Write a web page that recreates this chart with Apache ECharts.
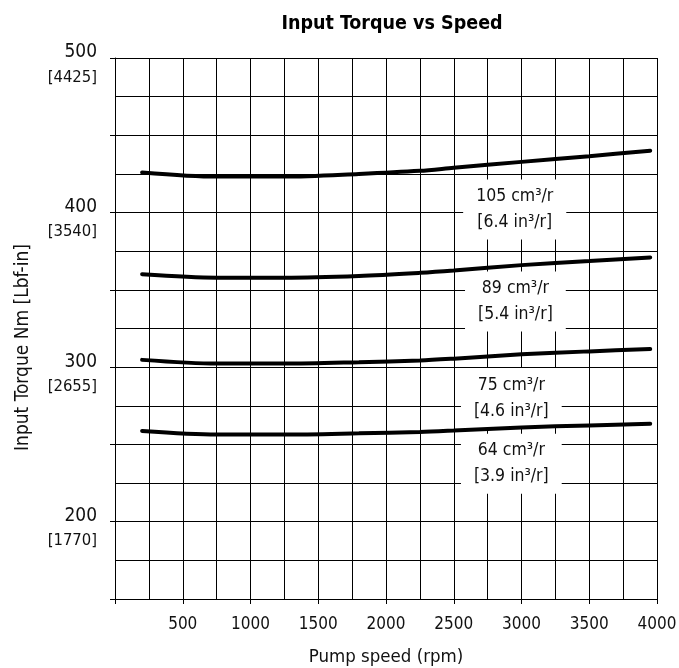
<!DOCTYPE html>
<html>
<head>
<meta charset="utf-8">
<title>Input Torque vs Speed</title>
<script src="https://cdn.jsdelivr.net/npm/echarts@6/dist/echarts.min.js"></script>
<style>
  html, body { margin: 0; padding: 0; background: #fff; }
  #chart { width: 679px; height: 668px; }
</style>
</head>
<body>
<div id="chart"></div>
<script>
const font = "'Liberation Sans Narrow', 'DejaVu Sans Condensed', sans-serif";

// pump speed (rpm) sample points, shared by all curves
const speed = [200, 750, 1250, 1800, 2250, 2500, 3000, 3500, 3950];

// input torque (Nm) per displacement
const torque105 = [426, 423.3, 423.3, 425, 427, 429, 432.8, 436.5, 440];
const torque89 = [360.1, 357.9, 357.9, 359, 361, 362.5, 366, 368.6, 371];
const torque75 = [304.7, 302.3, 302.3, 303.2, 304.3, 305.5, 308.3, 310.2, 311.7];
const torque64 = [258.7, 256.4, 256.4, 257.2, 258.1, 259, 261, 262.3, 263.3];

// curve labels
const labelCm = ['105 cm³/r', '89 cm³/r', '75 cm³/r', '64 cm³/r'];
const labelIn = ['[6.4 in³/r]', '[5.4 in³/r]', '[4.6 in³/r]', '[3.9 in³/r]'];
const labelSpeed = [2950, 2955, 2925, 2925];
const labelTorque = [402, 342.5, 280, 237.5];

// axis labels
const xLabels = [500, 1000, 1500, 2000, 2500, 3000, 3500, 4000];
const yLabelsNm = [200, 300, 400, 500];
const yLabelsLbf = ['[1770]', '[2655]', '[3540]', '[4425]'];

const curves = [torque105, torque89, torque75, torque64];

const chart = echarts.init(document.getElementById('chart'), null, { renderer: 'canvas' });

const lineSeries = curves.map(function (vals) {
  return {
    type: 'line',
    data: speed.map(function (s, i) { return [s, vals[i]]; }),
    smooth: 0.3,
    symbol: 'none',
    lineStyle: { color: '#000', width: 4, cap: 'round' },
    z: 6
  };
});

const labelSeries = {
  type: 'scatter',
  symbolSize: 0,
  z: 4,
  itemStyle: { opacity: 1 },
  data: labelSpeed.map(function (s, i) { return [s, labelTorque[i], i]; }),
  label: {
    show: true,
    position: 'inside',
    formatter: function (p) {
      const i = p.data[2];
      return labelCm[i] + '\n' + labelIn[i];
    },
    fontFamily: font,
    fontSize: 17.5,
    lineHeight: 26,
    color: '#111',
    backgroundColor: '#fff',
    padding: [7, 13, 1, 13]
  }
};

chart.setOption({
  animation: false,
  title: {
    text: 'Input Torque vs Speed',
    left: 387,
    top: 9,
    textAlign: 'center',
    textStyle: { fontFamily: font, fontWeight: 'bold', fontSize: 19.5, color: '#000' }
  },
  grid: { left: 115, right: 22, top: 58, bottom: 69, outerBoundsMode: 'none' },
  xAxis: {
    type: 'value',
    min: 0,
    max: 4000,
    interval: 500,
    name: 'Pump speed (rpm)',
    nameLocation: 'middle',
    nameGap: 49,
    nameTextStyle: { fontFamily: font, fontSize: 18.5, color: '#111' },
    axisLine: { show: true, lineStyle: { color: '#000', width: 1 } },
    axisTick: { show: true, length: 5, lineStyle: { color: '#000' } },
    axisLabel: {
      customValues: xLabels,
      margin: 17,
      fontFamily: font,
      fontSize: 17,
      color: '#111',
      formatter: function (v) { return String(v); }
    },
    minorTick: { show: false, splitNumber: 2 },
    splitLine: { show: true, lineStyle: { color: '#000', width: 1 } },
    minorSplitLine: { show: true, lineStyle: { color: '#000', width: 1 } }
  },
  yAxis: {
    type: 'value',
    min: 150,
    max: 500,
    interval: 50,
    name: 'Input Torque Nm [Lbf-in]',
    nameLocation: 'middle',
    nameGap: 82,
    nameTextStyle: { fontFamily: font, fontSize: 19, color: '#111', padding: [0, 38, 0, 0] },
    axisLine: { show: true, lineStyle: { color: '#000', width: 1 } },
    axisTick: { show: true, length: 5, lineStyle: { color: '#000' } },
    axisLabel: {
      customValues: yLabelsNm,
      margin: 18,
      padding: [14, 0, 0, 0],
      align: 'right',
      formatter: function (v) {
        const i = yLabelsNm.indexOf(v);
        return '{a|' + v + '}\n{b|' + yLabelsLbf[i] + '}';
      },
      rich: {
        a: { fontFamily: font, fontSize: 19, lineHeight: 25, color: '#111', align: 'right' },
        b: { fontFamily: font, fontSize: 16.5, lineHeight: 25, color: '#111', align: 'right' }
      }
    },
    minorTick: { show: false, splitNumber: 2 },
    splitLine: { show: true, lineStyle: { color: '#000', width: 1 } },
    minorSplitLine: { show: true, lineStyle: { color: '#000', width: 1 } }
  },
  series: lineSeries.concat([labelSeries])
});

window.addEventListener('resize', function () { chart.resize(); });
</script>
</body>
</html>
